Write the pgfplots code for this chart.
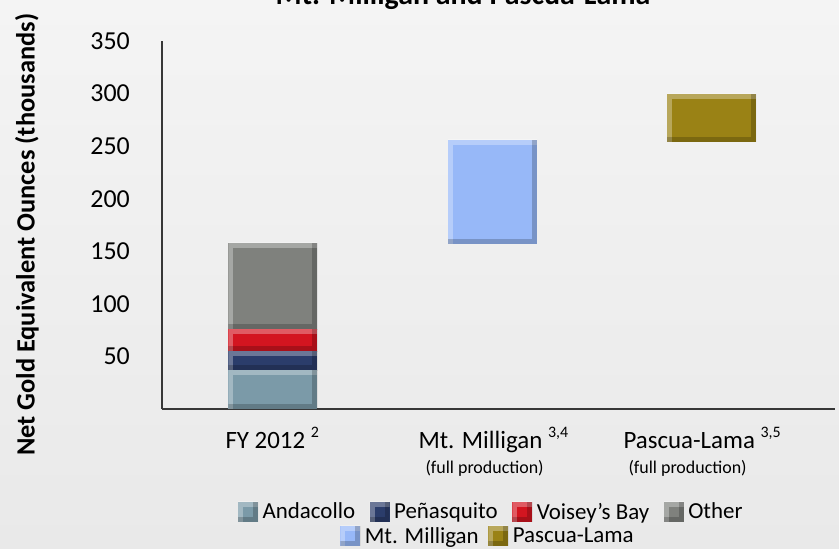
\documentclass[border=0pt]{standalone}
\usepackage{fontspec}
\setmainfont{Carlito}
\usepackage{pgfplots}
\pgfplotsset{compat=1.18}

\definecolor{cAnd}{RGB}{123,154,168}
\definecolor{cPen}{RGB}{43,61,107}
\definecolor{cVoi}{RGB}{211,21,32}
\definecolor{cOth}{RGB}{127,129,125}
\definecolor{cMtm}{RGB}{151,184,248}
\definecolor{cPas}{RGB}{154,130,21}
\definecolor{axc}{RGB}{55,55,55}

\tikzset{bevel/.style={path picture={
  \draw[path picture={}, fill=none, draw=white, draw opacity=0.30, line width=10bp, line join=miter]
    (path picture bounding box.south west) -- (path picture bounding box.north west) -- (path picture bounding box.north east);
  \draw[path picture={}, fill=none, draw=black, draw opacity=0.20, line width=10bp, line join=miter]
    (path picture bounding box.north east) -- (path picture bounding box.south east) -- (path picture bounding box.south west);
}}}
\pgfplotsset{myleg/.style={legend image code/.code={\fill[##1] (0bp,-10bp) rectangle (20bp,10bp);}}}

\begin{document}
\begin{tikzpicture}
\useasboundingbox (0bp,0bp) rectangle (839bp,549bp);
\clip (0bp,0bp) rectangle (839bp,549bp);
\shade[top color={rgb,255:red,244;green,244;blue,244}, bottom color={rgb,255:red,233;green,233;blue,233}] (0bp,0bp) rectangle (839bp,549bp);
\node[font=\fontsize{30}{36}\selectfont\bfseries, anchor=base] at (463bp,544bp) {Mt. Milligan and Pascua-Lama};

\begin{axis}[
  at={(162bp,140bp)}, anchor=south west,
  scale only axis, width=673bp, height=368bp,
  xmin=-0.506, xmax=2.563, ymin=0, ymax=350,
  axis x line*=bottom, axis y line*=left,
  axis line style={draw=axc, line width=1.6bp},
  ytick={50,100,...,350}, xtick=\empty,
  major tick length=0pt,
  /pgf/number format/assume math mode=true,
  yticklabel style={font=\fontsize{26}{30}\selectfont, anchor=east, inner sep=0pt, xshift=-32bp},
  ylabel={Net Gold Equivalent Ounces (thousands)},
  every axis y label/.style={at={(axis description cs:-0.2006,0.473)}, rotate=90, anchor=center, font=\fontsize{26.5}{30}\selectfont\bfseries},
  ybar stacked, bar width=89bp,
  clip=false,
  legend columns=4,
  legend style={at={(axis description cs:0.489,-0.279)}, anchor=center, draw=none, fill=none,
    font=\fontsize{23}{27}\selectfont, nodes={inner sep=1.5bp},
    /tikz/every odd column/.append style={column sep=3bp},
    /tikz/every even column/.append style={column sep=13bp}},
]
\addplot[draw=none, fill=none, forget plot] coordinates {(0,0) (1,157) (2,254)};
\addplot[fill=cAnd, draw=none, bevel, myleg] coordinates {(0,37) (1,0) (2,0)};
\addlegendentry{Andacollo}
\addplot[fill=cPen, draw=none, bevel, myleg] coordinates {(0,18) (1,0) (2,0)};
\addlegendentry{Peñasquito}
\addplot[fill=cVoi, draw=none, bevel, myleg] coordinates {(0,21) (1,0) (2,0)};
\addlegendentry{Voisey’s Bay}
\addplot[fill=cOth, draw=none, bevel, myleg] coordinates {(0,82) (1,0) (2,0)};
\addlegendentry{Other}
\addplot[fill=cMtm, draw=none, bevel, myleg] coordinates {(0,0) (1,99) (2,0)};
\addplot[fill=cPas, draw=none, bevel, myleg] coordinates {(0,0) (1,0) (2,46)};
\end{axis}

\begin{axis}[
  at={(162bp,140bp)}, anchor=south west,
  scale only axis, width=673bp, height=368bp,
  xmin=0, xmax=1, ymin=0, ymax=1, hide axis,
  legend columns=2,
  legend style={at={(axis description cs:0.484,-0.345)}, anchor=center, draw=none, fill=none,
    font=\fontsize{23}{27}\selectfont, nodes={inner sep=1.5bp},
    /tikz/every odd column/.append style={column sep=3bp},
    /tikz/every even column/.append style={column sep=8bp}},
]
\addlegendimage{fill=cMtm, draw=none, bevel, myleg}
\addlegendentry{Mt. Milligan}
\addlegendimage{fill=cPas, draw=none, bevel, myleg}
\addlegendentry{Pascua-Lama}
\end{axis}

\node[anchor=base west, font=\fontsize{25}{30}\selectfont] at (222bp,100bp) {FY 2012 \raisebox{0.45em}{\fontsize{16}{18}\selectfont 2}};
\node[anchor=base west, font=\fontsize{25}{30}\selectfont] at (415bp,100bp) {Mt. Milligan \raisebox{0.45em}{\fontsize{16}{18}\selectfont 3,4}};
\node[anchor=base west, font=\fontsize{25}{30}\selectfont] at (620bp,100bp) {Pascua-Lama \raisebox{0.45em}{\fontsize{16}{18}\selectfont 3,5}};
\node[anchor=base west, font=\fontsize{18}{22}\selectfont] at (422bp,75bp) {(full production)};
\node[anchor=base west, font=\fontsize{18}{22}\selectfont] at (625bp,75bp) {(full production)};
\end{tikzpicture}
\end{document}
